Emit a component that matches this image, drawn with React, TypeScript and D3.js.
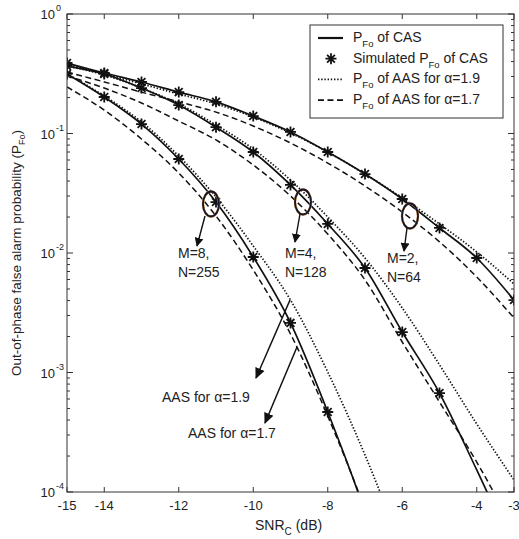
import React from "react";
import * as d3 from "d3";

// ---- data ----
const snr = [-15, -14, -13, -12, -11, -10, -9, -8, -7, -6, -5, -4, -3];

// M=2, N=64
const casM2 = [0.389, 0.321, 0.27, 0.222, 0.184, 0.14, 0.103, 0.07, 0.0458, 0.0283, 0.0162, 0.00908, 0.00404];
const aas19M2 = [0.382, 0.315, 0.26, 0.214, 0.177, 0.1375, 0.101, 0.07, 0.0458, 0.0289, 0.0175, 0.0102, 0.00551];
const aas17M2 = [0.327, 0.27, 0.222, 0.184, 0.151, 0.1156, 0.0833, 0.0566, 0.0364, 0.022, 0.0124, 0.0063, 0.00286];
const simM2 = [0.389, 0.321, 0.27, 0.222, 0.184, 0.14, 0.103, 0.07, 0.0458, 0.0283, 0.0162, 0.00908, 0.00404];

// M=4, N=128
const casM4 = [0.367, 0.315, 0.24, 0.173, 0.113, 0.07, 0.0371, 0.0175, 0.00749, 0.00218, 0.000673, 0.000153, 0.000033];
const aas19M4 = [0.367, 0.309, 0.24, 0.177, 0.118, 0.0742, 0.0408, 0.02, 0.00908, 0.00347, 0.00116, 0.000371, 0.000126];
const aas17M4 = [0.303, 0.24, 0.18, 0.127, 0.0883, 0.0545, 0.03, 0.0144, 0.00594, 0.0018, 0.000566, 0.000178, 0.000048];
const simM4 = [0.367, 0.315, 0.24, 0.173, 0.113, 0.07, 0.0371, 0.0175, 0.00749, 0.00218, 0.000673];

// M=8, N=255
const casM8 = [0.315, 0.202, 0.12, 0.0612, 0.0267, 0.00926, 0.0026, 0.000467, 0.000068, 0.000007];
const aas19M8 = [0.315, 0.206, 0.125, 0.0648, 0.0294, 0.01145, 0.00404, 0.00101, 0.000204, 0.000033];
const aas17M8 = [0.245, 0.157, 0.0899, 0.0467, 0.0204, 0.00721, 0.0021, 0.000432, 0.000071, 0.0000085];
const simM8 = [0.315, 0.202, 0.12, 0.0612, 0.0267, 0.00926, 0.0026, 0.000467];

const xTicks = [-15, -14, -12, -10, -8, -6, -4, -3];
const yDecades = [0, -1, -2, -3, -4];
const minorMult = [2, 3, 4, 5, 6, 7, 8, 9];

const legendItems = [
  { kind: "solid", pre: "P", sub: "Fo", post: " of CAS" },
  { kind: "star", pre: "Simulated P", sub: "Fo", post: " of CAS" },
  { kind: "dotted", pre: "P", sub: "Fo", post: " of AAS for \u03b1=1.9" },
  { kind: "dashed", pre: "P", sub: "Fo", post: " of AAS for \u03b1=1.7" },
];

const W = 519;
const H = 539;
const L = 67, R = 514, T = 14, B = 492;
const FONT = "'Liberation Sans', Arial, Helvetica, sans-serif";
const TXT = "#222";

const x = d3.scaleLinear().domain([-15, -3]).range([L, R]);
const y = d3.scaleLog().domain([1e-4, 1]).range([B, T]);

const lineGen = d3
  .line<[number, number]>()
  .x((d) => x(d[0]))
  .y((d) => y(d[1]))
  .curve(d3.curveMonotoneX);

const pts = (vals: number[]) => vals.map((v, i) => [snr[i], v] as [number, number]);

const DASH: Record<string, string | undefined> = {
  solid: undefined,
  dotted: "1.4,1.8",
  dashed: "6,3.5",
};

const STAR = "M-5.5,0H5.5M0,-5.5V5.5M-3.9,-3.9L3.9,3.9M-3.9,3.9L3.9,-3.9";

export default function App() {
  const curves: { vals: number[]; kind: string }[] = [
    { vals: aas17M2, kind: "dashed" },
    { vals: aas19M2, kind: "dotted" },
    { vals: casM2, kind: "solid" },
    { vals: aas17M4, kind: "dashed" },
    { vals: aas19M4, kind: "dotted" },
    { vals: casM4, kind: "solid" },
    { vals: aas17M8, kind: "dashed" },
    { vals: aas19M8, kind: "dotted" },
    { vals: casM8, kind: "solid" },
  ];
  const sims = [simM2, simM4, simM8];

  const minorTicks: number[] = [];
  yDecades.slice(1).forEach((e) => {
    minorMult.forEach((m) => minorTicks.push(m * Math.pow(10, e)));
  });

  return (
    <svg
      width={W}
      height={H}
      style={{ position: "absolute", left: 0, top: 0, background: "#fff" }}
      fontFamily={FONT}
    >
      <defs>
        <clipPath id="plotclip">
          <rect x={L} y={T} width={R - L} height={B - T} />
        </clipPath>
        <marker id="arrS" viewBox="0 0 10 10" refX="9" refY="5" markerWidth="9" markerHeight="9" markerUnits="userSpaceOnUse" orient="auto">
          <path d="M0,0L10,5L0,10Z" fill="#111" />
        </marker>
        <marker id="arrL" viewBox="0 0 10 10" refX="9" refY="5" markerWidth="11" markerHeight="11" markerUnits="userSpaceOnUse" orient="auto">
          <path d="M0,0.5L10,5L0,9.5Z" fill="#111" />
        </marker>
      </defs>

      {/* curves */}
      <g clipPath="url(#plotclip)">
        {curves.map((c, i) => (
          <path
            key={i}
            d={lineGen(pts(c.vals)) || ""}
            fill="none"
            stroke="#111"
            strokeWidth={c.kind === "solid" ? 1.7 : c.kind === "dotted" ? 1.7 : 1.5}
            strokeDasharray={DASH[c.kind]}
          />
        ))}
        {sims.map((s, si) =>
          s.map((v, i) => (
            <path
              key={`${si}-${i}`}
              d={STAR}
              transform={`translate(${x(snr[i])},${y(v)})`}
              stroke="#111"
              strokeWidth={1.8}
              fill="none"
            />
          ))
        )}
      </g>

      {/* axes box */}
      <rect x={L} y={T} width={R - L} height={B - T} fill="none" stroke="#333" strokeWidth={1} />

      {/* x ticks */}
      {xTicks.map((t) => (
        <g key={`xt${t}`}>
          <line x1={x(t)} x2={x(t)} y1={B} y2={B - 5} stroke="#333" />
          <line x1={x(t)} x2={x(t)} y1={T} y2={T + 5} stroke="#333" />
          <text x={x(t)} y={B + 18} textAnchor="middle" fontSize={13} fill={TXT}>
            {t}
          </text>
        </g>
      ))}

      {/* y ticks */}
      {yDecades.map((e) => {
        const yy = y(Math.pow(10, e));
        return (
          <g key={`yd${e}`}>
            <line x1={L} x2={L + 6} y1={yy} y2={yy} stroke="#333" />
            <line x1={R} x2={R - 6} y1={yy} y2={yy} stroke="#333" />
            <text x={55} y={yy + 5} textAnchor="end" fontSize={13} fill={TXT}>
              10
            </text>
            <text x={56} y={yy - 3} textAnchor="start" fontSize={9} fill={TXT}>
              {e === 0 ? "0" : `${e}`}
            </text>
          </g>
        );
      })}
      {minorTicks.map((v, i) => (
        <g key={`ym${i}`}>
          <line x1={L} x2={L + 3} y1={y(v)} y2={y(v)} stroke="#333" />
          <line x1={R} x2={R - 3} y1={y(v)} y2={y(v)} stroke="#333" />
        </g>
      ))}

      {/* axis labels */}
      <text x={255} y={530} fontSize={14} fill={TXT}>
        SNR
        <tspan fontSize={10} dy={5}>C</tspan>
        <tspan dy={-5}> (dB)</tspan>
      </text>
      <text
        transform="translate(21,253) rotate(-90)"
        textAnchor="middle"
        fontSize={13.5}
        fill={TXT}
      >
        Out-of-phase false alarm probability (P
        <tspan fontSize={9} dy={4}>Fo</tspan>
        <tspan dy={-4}>)</tspan>
      </text>

      {/* legend */}
      <g>
        <rect x={310} y={25} width={193} height={93} fill="#fff" stroke="#333" strokeWidth={1} />
        {legendItems.map((it, i) => {
          const ly = 38 + i * 20.7;
          return (
            <g key={`lg${i}`}>
              {it.kind === "star" ? (
                <path d={STAR} transform={`translate(331,${ly})`} stroke="#111" strokeWidth={1.8} fill="none" />
              ) : (
                <line
                  x1={318}
                  x2={343}
                  y1={ly}
                  y2={ly}
                  stroke="#111"
                  strokeWidth={it.kind === "solid" ? 2.2 : 1.7}
                  strokeDasharray={DASH[it.kind]}
                />
              )}
              <text x={353} y={ly + 4} fontSize={14} fill={TXT}>
                {it.pre}
                <tspan fontSize={9.5} dy={5}>{it.sub}</tspan>
                <tspan dy={-5}>{it.post}</tspan>
              </text>
            </g>
          );
        })}
      </g>

      {/* ellipses & annotations */}
      {[
        { cx: 211, cy: 204, ax1: 205, ay1: 216, ax2: 197, ay2: 246 },
        { cx: 303, cy: 202, ax1: 300, ay1: 214, ax2: 295, ay2: 242 },
        { cx: 410, cy: 216, ax1: 407, ay1: 228, ax2: 404, ay2: 251 },
      ].map((a, i) => (
        <g key={`el${i}`}>
          <ellipse cx={a.cx} cy={a.cy} rx={8} ry={12.5} fill="none" stroke="#d08a3c" strokeWidth={2.4} />
          <ellipse cx={a.cx} cy={a.cy} rx={8} ry={12.5} fill="none" stroke="#101530" strokeWidth={1.8} />
          <line x1={a.ax1} y1={a.ay1} x2={a.ax2} y2={a.ay2} stroke="#111" strokeWidth={1.4} markerEnd="url(#arrS)" />
        </g>
      ))}
      <g fontSize={14} fill={TXT}>
        <text x={178} y={258}>M=8,</text>
        <text x={178} y={277}>N=255</text>
        <text x={285} y={258}>M=4,</text>
        <text x={285} y={277}>N=128</text>
        <text x={387} y={263}>M=2,</text>
        <text x={387} y={282}>N=64</text>
      </g>
      <line x1={290} y1={300} x2={256} y2={378} stroke="#111" strokeWidth={1.5} markerEnd="url(#arrL)" />
      <line x1={297} y1={347} x2={265} y2={423} stroke="#111" strokeWidth={1.5} markerEnd="url(#arrL)" />
      <g fontSize={14} fill={TXT}>
        <text x={162} y={402}>AAS for {"\u03b1"}=1.9</text>
        <text x={188} y={438}>AAS for {"\u03b1"}=1.7</text>
      </g>
    </svg>
  );
}
